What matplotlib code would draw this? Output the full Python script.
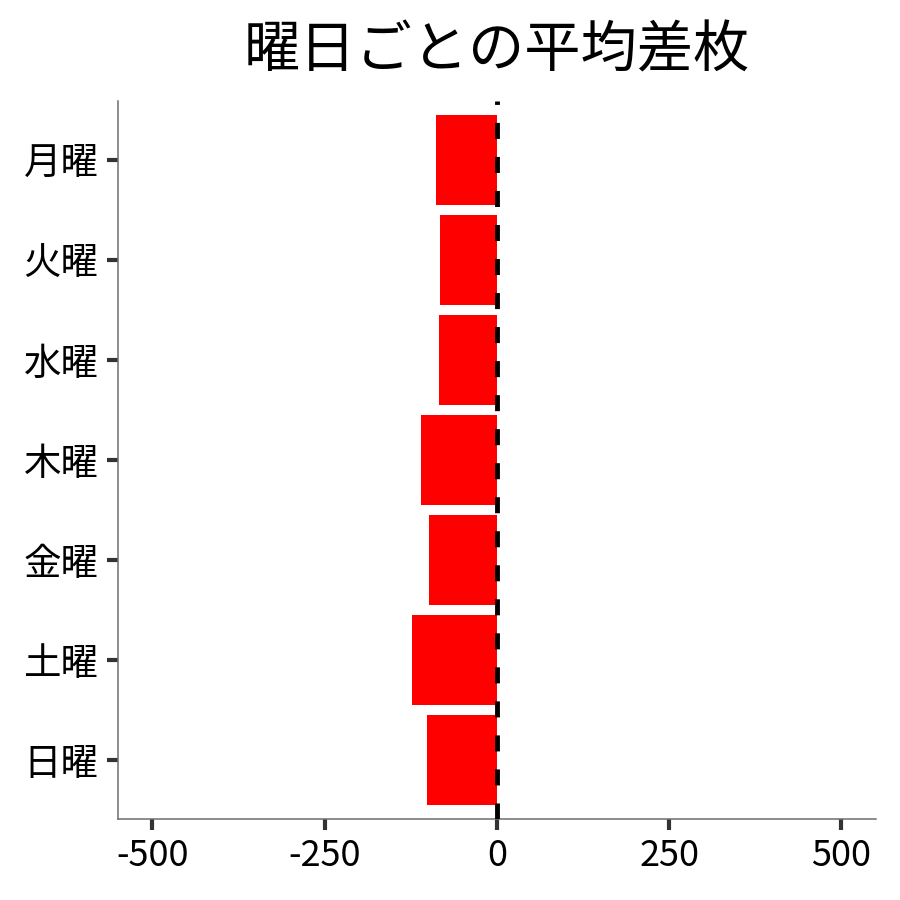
import matplotlib
matplotlib.use("Agg")
import matplotlib.pyplot as plt

plt.rcParams['font.family'] = ['Noto Sans CJK JP', 'DejaVu Sans']

# 曜日ごとの平均差枚 (top to bottom)
days = ["月曜", "火曜", "水曜", "木曜", "金曜", "土曜", "日曜"]
avg_diff = [-88, -82, -84, -110, -98, -123, -101]
xticks = [-500, -250, 0, 250, 500]

fig = plt.figure(figsize=(9, 9), dpi=100)
ax = fig.add_axes([0.131, 0.09, 0.842, 0.798])

ypos = list(range(len(days)))[::-1]
ax.barh(ypos, avg_diff, height=0.9, color="red", zorder=2)
ax.axvline(0, color="black", lw=3.5, linestyle=(0, (3.3, 3.7)), zorder=3)

ax.set_xlim(-550, 550)
ax.set_ylim(-0.59, 6.59)
ax.set_xticks(xticks)
ax.set_xticklabels([str(v) for v in xticks])
ax.set_yticks(ypos)
ax.set_yticklabels(days)

for s in ["top", "right"]:
    ax.spines[s].set_visible(False)
for s in ["left", "bottom"]:
    ax.spines[s].set_color("#6e6e6e")
    ax.spines[s].set_linewidth(1.1)

ax.tick_params(axis="both", length=8, width=3, color="#333333",
               labelcolor="black", pad=6)
ax.tick_params(axis="y", labelsize=27)
ax.tick_params(axis="x", labelsize=26)

ax.set_title("曜日ごとの平均差枚", fontsize=40.5, pad=24)

fig.savefig("out.png", dpi=100)
